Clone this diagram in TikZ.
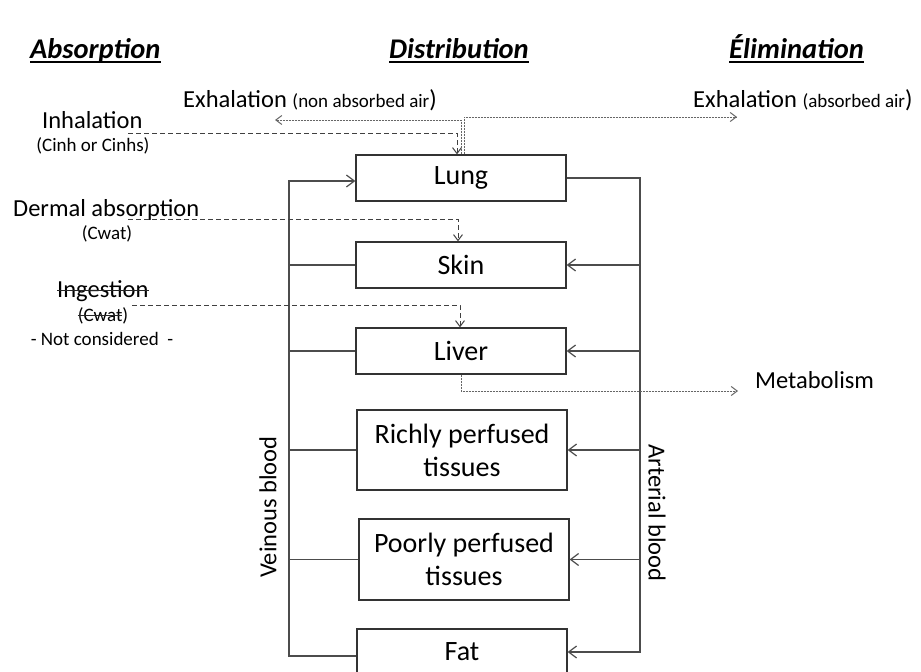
\documentclass[tikz,border=0pt]{standalone}
\usepackage{fontspec}
\setmainfont{Carlito}
\usetikzlibrary{arrows.meta}
\begin{document}
\begin{tikzpicture}[x=1pt,y=-1pt,
 box/.style={draw=black!80,line width=1.2pt,minimum width=210pt,inner sep=0pt,align=center,font=\fontsize{28}{33}\selectfont},
 lab/.style={inner sep=0pt,font=\fontsize{24.5}{28}\selectfont},
 small/.style={inner sep=0pt,font=\fontsize{19}{22}\selectfont},
 head/.style={inner sep=0pt,font=\fontsize{28.5}{30}\selectfont\bfseries\itshape},
 flow/.style={draw=black!70,line width=1.2pt},
 tip/.style={-{Straight Barb[length=8pt,width=12pt]}},
 dtip/.style={-{Straight Barb[length=6pt,width=9pt]}},
 intake/.style={draw=black!75,line width=1pt,dash pattern=on 5pt off 3pt},
 outflow/.style={draw=black!60,line width=1pt,dash pattern=on 2pt off 1pt},
 strike/.style={draw=black!85,line width=1pt},
]
\clip (0,0) rectangle (921,672);
\useasboundingbox (0,0) rectangle (921,672);

% headings
\node[head,anchor=base west] (habs) at (30,58) {Absorption};
\node[head,anchor=base west] (hdis) at (389,58) {Distribution};
\node[head,anchor=base west] (helim) at (729,58) {Élimination};
\foreach \h in {habs,hdis,helim}
  \draw[line width=2.5pt] ([yshift=-4pt]\h.base west) -- ([yshift=-4pt]\h.base east);

% compartments
\node[box,minimum height=46pt] (lung) at (461,178) {Lung};
\node[box,minimum height=46pt] (skin) at (461,265) {Skin};
\node[box,minimum height=46pt] (liver) at (461,351) {Liver};
\node[box,minimum height=80pt] (rich) at (462,450) {Richly perfused\\tissues};
\node[box,minimum height=81pt] (poor) at (464,559.5) {Poorly perfused\\tissues};
\node[box,minimum height=46pt] (fat) at (462,652) {Fat};

% venous blood
\coordinate (vtop) at (289,181);
\draw[flow,tip] ([yshift=-4pt]fat.west) -| (vtop) -- ([yshift=-3pt]lung.west);
\foreach \b in {skin,liver,rich,poor}
  \draw[flow] (\b.west) -- (\b.west -| vtop);
\node[lab,rotate=90] (vb) at (268,507) {Veinous blood};

% arterial blood
\coordinate (atop) at (640,178);
\draw[flow,tip] (lung.east) -- (atop) |- (fat.east);
\foreach \b in {skin,liver,rich,poor}
  \draw[flow,tip] (\b.east -| atop) -- (\b.east);
\node[lab,rotate=-90] (ab) at (657,513) {Arterial blood};

% absorption routes
\node[lab,anchor=base west] (inh) at (42,128) {Inhalation};
\node[small,anchor=base] (cinh) at (93,151) {(Cinh or Cinhs)};
\coordinate (inhs) at (128,133);
\draw[intake,dtip] (inhs) -| ([xshift=-4pt]lung.north);

\node[lab,anchor=base west] (derm) at (13,216) {Dermal absorption};
\node[small,anchor=base] (cw1) at (107,239) {(Cwat)};
\coordinate (derms) at (128,219);
\draw[intake,dtip] (derms) -| ([xshift=-3pt]skin.north);

\node[lab,anchor=base west] (ing) at (57,297) {Ingestion};
\draw[strike] ([yshift=7pt]ing.base west) -- ([yshift=7pt]ing.base east);
\node[small,anchor=base] (cw2) at (103,321) {(Cwat)};
\draw[strike] ([yshift=6pt]cw2.base west) -- ([yshift=6pt,xshift=-6pt]cw2.base east);
\node[small,anchor=base] (nc) at (102,345) {- Not considered\ \ -};
\coordinate (ings) at (132,305);
\draw[intake,dtip] (ings) -| ([xshift=-1pt]liver.north);

% elimination routes
\node[lab,anchor=base west] (exn) at (183,107) {Exhalation {\fontsize{19}{22}\selectfont(non absorbed air})};
\coordinate (exnend) at (275,120);
\draw[outflow,dtip] (lung.north) |- (exnend);

\node[lab,anchor=base west] (exa) at (693,107) {Exhalation {\fontsize{19}{22}\selectfont(absorbed air})};
\coordinate (exaend) at (737,117);
\draw[outflow,dtip] ([xshift=3pt]lung.north) |- (exaend);

\node[lab,anchor=base west] (met) at (755,388) {Metabolism};
\coordinate (metend) at (738,391);
\draw[outflow,dtip] (liver.south) |- (metend);
\end{tikzpicture}
\end{document}
